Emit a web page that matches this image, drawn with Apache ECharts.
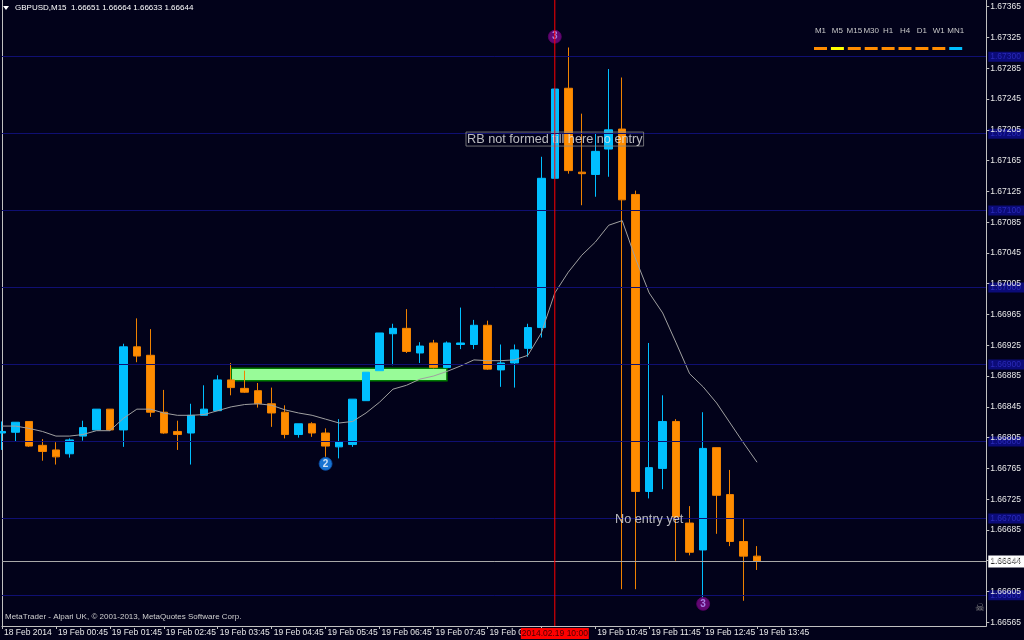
<!DOCTYPE html>
<html><head><meta charset="utf-8">
<script src="https://cdn.jsdelivr.net/npm/echarts@6/dist/echarts.min.js"></script>
<style>html,body{margin:0;padding:0;background:#02021a;}#c{width:1024px;height:640px;}</style>
</head><body><div id="c"></div>
<script>
// ---------- DATA ----------
const symbolName = 'GBPUSD';
const timeframe = 'M15';
const copyrightText = 'MetaTrader - Alpari UK, \u00a9 2001-2013, MetaQuotes Software Corp.';

// 15-minute bar times: 57 bars from 18 Feb 23:45 + empty slots on the right
const categories = [];
(function () {
  let d = 18, h = 23, m = 45;
  for (let i = 0; i < 74; i++) {
    categories.push('2014.02.' + d + ' ' + String(h).padStart(2, '0') + ':' + String(m).padStart(2, '0'));
    m += 15; if (m === 60) { m = 0; h++; if (h === 24) { h = 0; d++; } }
  }
})();

const open = [1.66811,1.66812,1.66826,1.66795,1.66789,1.66784,1.66807,1.66815,1.66842,1.66815,
  1.66923,1.66912,1.66838,1.66813,1.66811,1.66834,1.66840,1.66880,1.66869,1.66866,
  1.66849,1.66838,1.66809,1.66823,1.66811,1.66793,1.66796,1.66853,1.66892,1.66940,
  1.66947,1.66915,1.66928,1.66896,1.66926,1.66926,1.66951,1.66893,1.66902,1.66921,
  1.66948,1.67142,1.67259,1.67150,1.67147,1.67180,1.67206,1.67121,1.66735,1.66765,
  1.66826,1.66694,1.66659,1.66792,1.66731,1.66670,1.66651];
const high = [1.66826,1.66825,1.66826,1.66803,1.66799,1.66804,1.66827,1.66842,1.66842,1.66927,
  1.66960,1.66946,1.66867,1.66827,1.66849,1.66873,1.66886,1.66902,1.66892,1.66876,
  1.66870,1.66847,1.66823,1.66825,1.66817,1.66829,1.66855,1.66890,1.66941,1.66953,
  1.66972,1.66929,1.66932,1.66930,1.66974,1.66958,1.66957,1.66926,1.66926,1.66953,
  1.67170,1.67259,1.67312,1.67226,1.67201,1.67284,1.67273,1.67126,1.66928,1.66860,
  1.66829,1.66716,1.66838,1.66792,1.66763,1.66699,1.66664];
const low = [1.66789,1.66800,1.66793,1.66775,1.66770,1.66779,1.66801,1.66815,1.66814,1.66793,
  1.66903,1.66832,1.66810,1.66789,1.66770,1.66834,1.66840,1.66860,1.66863,1.66844,
  1.66819,1.66804,1.66805,1.66806,1.66780,1.66778,1.66793,1.66853,1.66892,1.66899,
  1.66915,1.66902,1.66895,1.66896,1.66920,1.66920,1.66893,1.66871,1.66870,1.66910,
  1.66935,1.67142,1.67148,1.67107,1.67118,1.67144,1.66608,1.66608,1.66726,1.66738,
  1.66645,1.66652,1.66596,1.66680,1.66664,1.66593,1.66633];
const close = [1.66813,1.66825,1.66794,1.66787,1.66780,1.66802,1.66818,1.66842,1.66815,1.66923,
  1.66911,1.66838,1.66811,1.66809,1.66834,1.66842,1.66880,1.66870,1.66864,1.66849,
  1.66837,1.66809,1.66823,1.66811,1.66794,1.66800,1.66855,1.66890,1.66941,1.66947,
  1.66917,1.66924,1.66896,1.66928,1.66928,1.66951,1.66894,1.66902,1.66919,1.66948,
  1.67142,1.67258,1.67152,1.67148,1.67177,1.67205,1.67114,1.66735,1.66766,1.66826,
  1.66702,1.66656,1.66791,1.66730,1.66670,1.66651,1.66644];
const maValues = [1.66820,1.66820,1.66817,1.66813,1.66807,1.66807,1.66809,1.66814,1.66814,1.66830,
  1.66842,1.66842,1.66837,1.66834,1.66834,1.66835,1.66840,1.66845,1.66848,1.66849,
  1.66847,1.66841,1.66837,1.66834,1.66829,1.66824,1.66826,1.66837,1.66851,1.66868,
  1.66873,1.66881,1.66885,1.66891,1.66898,1.66906,1.66905,1.66905,1.66906,1.66912,
  1.66941,1.66993,1.67020,1.67042,1.67059,1.67081,1.67087,1.67037,1.66993,1.66967,
  1.66928,1.66888,1.66871,1.66850,1.66824,1.66798,1.66773];

const yLabelValues = [1.66565,1.66605,1.66645,1.66685,1.66725,1.66765,1.66805,1.66845,1.66885,1.66925,
  1.66965,1.67005,1.67045,1.67085,1.67125,1.67165,1.67205,1.67245,1.67285,1.67325,1.67365];
const gridLevels = [1.666,1.667,1.668,1.669,1.670,1.671,1.672,1.673];
const xTickIndex = [0,4,8,12,16,20,24,28,32,36,40,44,48,52,56];
const xTickLabels = ['18 Feb 2014','19 Feb 00:45','19 Feb 01:45','19 Feb 02:45','19 Feb 03:45','19 Feb 04:45',
  '19 Feb 05:45','19 Feb 06:45','19 Feb 07:45','19 Feb 08:45','','19 Feb 10:45','19 Feb 11:45','19 Feb 12:45','19 Feb 13:45'];

const vLineIndex = 41;                 // red vertical line at 10:00
const zoneStart = 17, zoneEnd = 33;    // green rectangle (bar indices)
const zoneTop = 1.66895, zoneBottom = 1.66879;
const signalIndex = [24, 41, 52];
const signalPrice = [1.66771, 1.67326, 1.66589];
const signalText = ['2', '3', '3'];
const noteIndex = [41, 48];
const notePrice = [1.67193, 1.66699];
const noteText = ['RB not formed till here no entry', 'No entry yet'];
const tfNames = ['M1','M5','M15','M30','H1','H4','D1','W1','MN1'];
const tfColors = ['#ff8c00','#ffff00','#ff8c00','#ff8c00','#ff8c00','#ff8c00','#ff8c00','#ff8c00','#00bfff'];

// ---------- CHART ----------
const FONT = '"Liberation Sans", Arial, sans-serif';
const BG = '#02021a';
const GRIDC = '#0f0f72';
const FRAME = '#c0c0c0';
const yMin = 1.665602, yMax = 1.673737;
const last = close.length - 1;
const labelMap = new Map(xTickIndex.map((idx, k) => [idx, xTickLabels[k]]));
const candleData = open.map((o, i) => [o, close[i], low[i], high[i]]);

const chart = echarts.init(document.getElementById('c'), null, { renderer: 'canvas' });

const tfGraphics = [];
tfNames.forEach((n, i) => {
  const cx = 820.5 + i * 16.9;
  tfGraphics.push({ type: 'text', x: cx, y: 31, style: { text: n, fill: '#c8c8c8', font: '8px ' + FONT, textAlign: 'center', textVerticalAlign: 'middle' } });
  tfGraphics.push({ type: 'rect', shape: { x: cx - 6.5, y: 47, width: 13, height: 3 }, style: { fill: tfColors[i], stroke: null } });
});

const lineLabelBase = { show: true, position: 'end', distance: 2, fontSize: 8.5, fontFamily: FONT };
const markLineData = gridLevels.map(v => ({
  yAxis: v,
  lineStyle: { color: GRIDC, type: 'solid', width: 1 },
  label: Object.assign({}, lineLabelBase, { formatter: v.toFixed(5), backgroundColor: '#0b0b78', color: '#2a2ab8', padding: [1, 4, 0, 2] })
}));
markLineData.push({
  yAxis: close[last],
  lineStyle: { color: '#a8a8a8', type: 'solid', width: 1 },
  label: Object.assign({}, lineLabelBase, { formatter: close[last].toFixed(5), backgroundColor: '#ffffff', color: '#000000', padding: [2, 4, 1, 2] })
});

const option = {
  backgroundColor: BG,
  animation: false,
  textStyle: { fontFamily: FONT },
  title: {
    text: symbolName + ',' + timeframe + '  ' + [open[last], high[last], low[last], close[last]].map(v => v.toFixed(5)).join(' '),
    left: 15, top: 4, padding: 0,
    textStyle: { color: '#ffffff', fontSize: 8, fontWeight: 'normal', fontFamily: FONT }
  },
  grid: { left: 2, right: 36.5, top: 0, bottom: 14 },
  xAxis: {
    type: 'category', data: categories, boundaryGap: false,
    axisLine: { show: true, lineStyle: { color: FRAME, width: 1 } },
    axisTick: { show: true, interval: (i) => labelMap.has(i), length: 3, lineStyle: { color: FRAME } },
    axisLabel: {
      interval: (i) => labelMap.has(i) && labelMap.get(i) !== '',
      formatter: (v, i) => labelMap.get(i) || '',
      align: 'left', margin: 2, padding: [0, 0, 0, 2],
      color: '#e8e8e8', fontSize: 8.5, fontFamily: FONT
    },
    splitLine: { show: false }
  },
  yAxis: [{
    type: 'value', position: 'right', min: yMin, max: yMax, z: 6,
    axisLine: { show: true, lineStyle: { color: FRAME } },
    axisTick: { show: true, customValues: yLabelValues, length: 3, lineStyle: { color: FRAME } },
    axisLabel: { customValues: yLabelValues, formatter: v => v.toFixed(5), margin: 4, color: '#e8e8e8', fontSize: 8.5, fontFamily: FONT },
    splitLine: { show: false }
  }, {
    type: 'value', position: 'left', min: yMin, max: yMax,
    axisLine: { show: true, lineStyle: { color: FRAME } },
    axisTick: { show: false }, axisLabel: { show: false }, splitLine: { show: false }
  }],
  graphic: [
    { type: 'polygon', shape: { points: [[3, 6], [9, 6], [6, 10]] }, style: { fill: '#ffffff' } },
    { type: 'text', x: 5, y: 617, style: { text: copyrightText, fill: '#d0d0d0', font: '8px ' + FONT, textVerticalAlign: 'middle' } },
    { type: 'text', x: 980, y: 608, style: { text: '\u2620', fill: '#8a8a8a', font: '11px "DejaVu Sans"', textAlign: 'center', textVerticalAlign: 'middle' } }
  ].concat(tfGraphics),
  series: [
    {
      name: 'zone', type: 'line', data: [], z: 1, silent: true,
      markArea: {
        silent: true,
        itemStyle: { color: '#98fb98', borderColor: '#007a00', borderWidth: 1.5 },
        data: [[{ xAxis: categories[zoneStart], yAxis: zoneTop }, { xAxis: categories[zoneEnd], yAxis: zoneBottom }]]
      }
    },
    {
      name: symbolName, type: 'candlestick', data: candleData, z: 3, barWidth: 8,
      itemStyle: { color: '#00bfff', color0: '#ff8c00', borderColor: '#00bfff', borderColor0: '#f08200', borderWidth: 1 },
      markLine: { silent: true, symbol: ['none', 'none'], animation: false, precision: 5, data: markLineData }
    },
    {
      name: 'MA', type: 'line', data: maValues, z: 4, symbol: 'none', smooth: false,
      lineStyle: { color: '#a0a0a0', width: 1 }
    },
    {
      name: 'vline', type: 'line', z: 8, symbol: 'none', silent: true, clip: false,
      data: [[vLineIndex, yMin], [vLineIndex, yMax]],
      lineStyle: { color: '#ff0000', width: 1 },
      markPoint: {
        silent: true, animation: false,
        symbol: 'rect', symbolSize: [68, 11], symbolOffset: [0, 7.5],
        itemStyle: { color: '#ff0000' },
        label: { show: true, position: 'inside', formatter: categories[vLineIndex], color: '#4a0000', fontSize: 8.5, fontFamily: FONT },
        data: [{ coord: [vLineIndex, yMin] }]
      }
    },
    {
      name: 'signals', type: 'scatter', z: 6, symbol: 'circle', symbolSize: 13,
      data: signalIndex.map((idx, k) => ({
        value: [idx, signalPrice[k]],
        itemStyle: { color: signalText[k] === '2' ? '#1e90ff' : '#7a0a8a', borderColor: signalText[k] === '2' ? '#0b4fa8' : '#5a0068', borderWidth: 1 },
        label: { show: true, position: 'inside', formatter: signalText[k], color: signalText[k] === '2' ? '#ffffff' : '#b89cff',
          fontSize: 10, fontWeight: 'bold', fontFamily: FONT }
      }))
    },
    {
      name: 'notes', type: 'scatter', z: 7, symbolSize: 0,
      data: noteIndex.map((idx, k) => ({
        value: [idx, notePrice[k]],
        label: k === 0
          ? { show: true, position: 'inside', formatter: noteText[k], color: '#e6e6e6', fontSize: 12.7, fontFamily: FONT,
              borderColor: '#8a8a8a', borderWidth: 1, padding: [1, 1, 0, 1] }
          : { show: true, position: 'inside', formatter: noteText[k], color: '#e6e6e6', fontSize: 12.7, fontFamily: FONT }
      }))
    }
  ]
};
chart.setOption(option);
</script>
</body></html>
